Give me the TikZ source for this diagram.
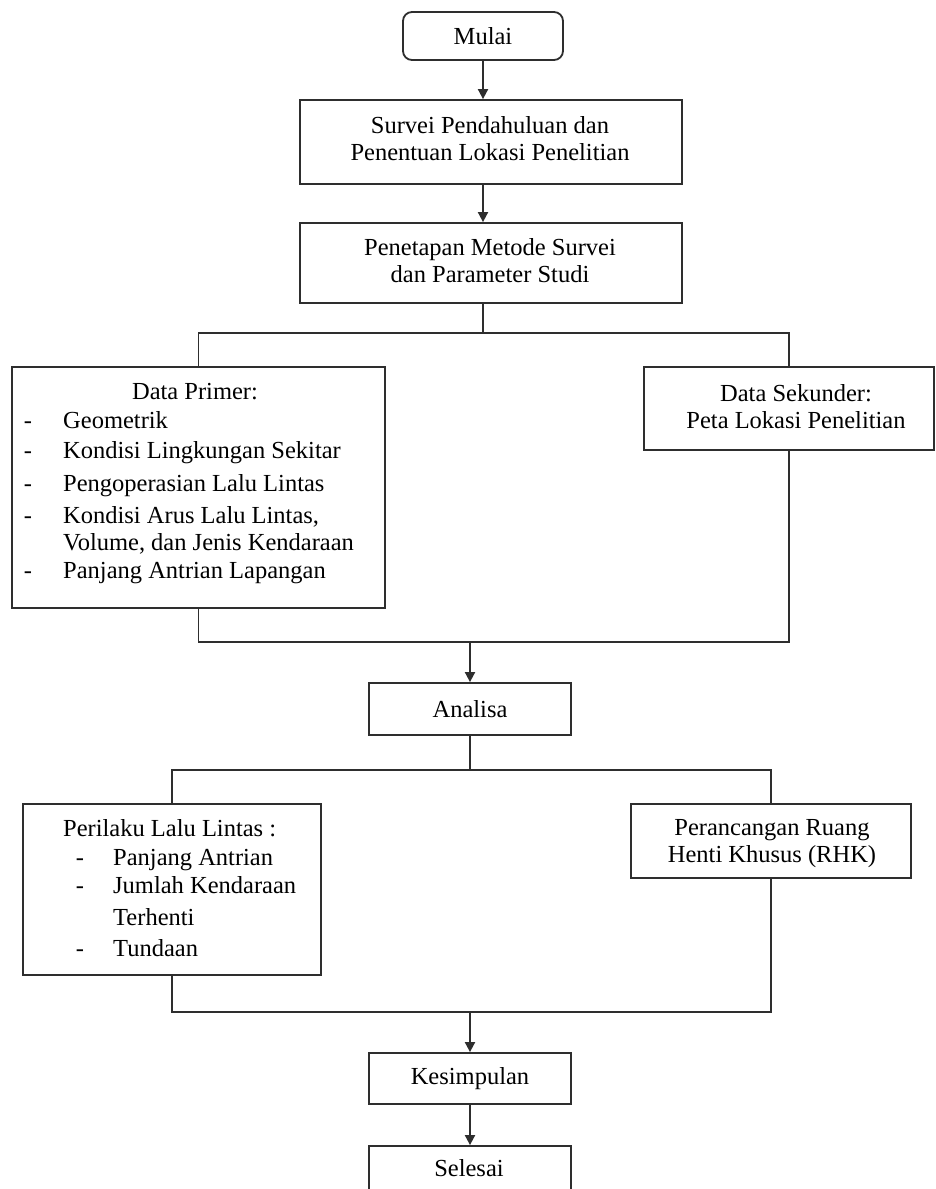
\documentclass[tikz,border=0pt]{standalone}
\usepackage{fontspec}
\setmainfont{Liberation Serif}
\usetikzlibrary{arrows.meta}
\begin{document}
\begin{tikzpicture}[x=1pt,y=-1pt,
  box/.style={draw=black!82, line width=1.8pt, rectangle, inner sep=0pt},
  txt/.style={font=\fontsize{24.5}{27}\selectfont, inner sep=0pt, align=center, text=black},
  item/.style={font=\fontsize{24.5}{27}\selectfont, inner sep=0pt, anchor=base west, text=black},
  conn/.style={draw=black!82, line width=1.8pt},
  arr/.style={conn, -{Triangle[width=10pt,length=10pt]}}]
\useasboundingbox (0,0) rectangle (936,1189);
\clip (0,0) rectangle (936,1189);
\fill[white] (0,0) rectangle (936,1189);

% boxes
\node[box, rounded corners=9pt, minimum width=160pt, minimum height=48pt, txt] (mulai) at (483,36) {Mulai};
\node[box, minimum width=382pt, minimum height=84pt] (survei) at (491,142) {};
\node[txt] (tsurvei) at (490,139) {Survei Pendahuluan dan\\Penentuan Lokasi Penelitian};
\node[box, minimum width=382pt, minimum height=80pt] (penetapan) at (491,263) {};
\node[txt] (tpenetapan) at (490,261) {Penetapan Metode Survei\\dan Parameter Studi};

\node[box, minimum width=373pt, minimum height=241pt] (primer) at (198.5,487.5) {};
\node[txt] (tprimer) at (195,392) {Data Primer:};
\foreach \b/\t [count=\i] in {428/Geometrik, 458/Kondisi Lingkungan Sekitar, 491/Pengoperasian Lalu Lintas, 523/{Kondisi Arus Lalu Lintas,}, 578/Panjang Antrian Lapangan}{
  \node[item, anchor=base] (pd\i) at (28,\b) {-};
  \node[item] (pi\i) at (63,\b) {\t};
}
\node[item] (pvol) at (63,550) {Volume, dan Jenis Kendaraan};

\node[box, minimum width=290pt, minimum height=83pt] (sekunder) at (789,408.5) {};
\node[txt] (tsekunder) at (796,407) {Data Sekunder:\\Peta Lokasi Penelitian};

\node[box, minimum width=202pt, minimum height=52pt, txt] (analisa) at (470,709) {Analisa};

\node[box, minimum width=298pt, minimum height=171pt] (perilaku) at (172,889.5) {};
\node[item] (tperilaku) at (63,836) {Perilaku Lalu Lintas :};
\node[item, anchor=base] (qd1) at (80,865) {-};
\node[item] (qi1) at (113,865) {Panjang Antrian};
\node[item, anchor=base] (qd2) at (80,893) {-};
\node[item] (qi2) at (113,893) {Jumlah Kendaraan};
\node[item] (qi3) at (113,925) {Terhenti};
\node[item, anchor=base] (qd4) at (80,956) {-};
\node[item] (qi4) at (113,956) {Tundaan};

\node[box, minimum width=280pt, minimum height=74pt] (perancangan) at (771,841) {};
\node[txt] (tperancangan) at (772,844) {Perancangan Ruang\\Henti Khusus (RHK)};

\node[box, minimum width=202pt, minimum height=51pt, txt] (kesimpulan) at (470,1078.5) {Kesimpulan};
\node[box, minimum width=202pt, minimum height=70pt] (selesai) at (470,1181) {};
\node[txt] (tselesai) at (469,1168) {Selesai};

% junction points
\coordinate (sp1) at (483,333);
\coordinate (j1) at (470,642);
\coordinate (sp2) at (470,770);
\coordinate (j2) at (470,1012);

% connectors
\draw[arr] (mulai.south) -- (mulai.south |- survei.north);
\draw[arr] (mulai.south |- survei.south) -- (mulai.south |- penetapan.north);
\draw[conn] (sp1 |- penetapan.south) -- (sp1);
\draw[conn] (primer.north) -- (primer.north |- sp1) -- (sekunder.north |- sp1) -- (sekunder.north);
\draw[conn] (primer.south) -- (primer.south |- j1) -- (sekunder.south |- j1) -- (sekunder.south);
\draw[arr] (j1) -- (j1 |- analisa.north);
\draw[conn] (analisa.south) -- (sp2);
\draw[conn] (perilaku.north) -- (perilaku.north |- sp2) -- (perancangan.north |- sp2) -- (perancangan.north);
\draw[conn] (perilaku.south) -- (perilaku.south |- j2) -- (perancangan.south |- j2) -- (perancangan.south);
\draw[arr] (j2) -- (j2 |- kesimpulan.north);
\draw[arr] (kesimpulan.south) -- (selesai.north);
\end{tikzpicture}
\end{document}
